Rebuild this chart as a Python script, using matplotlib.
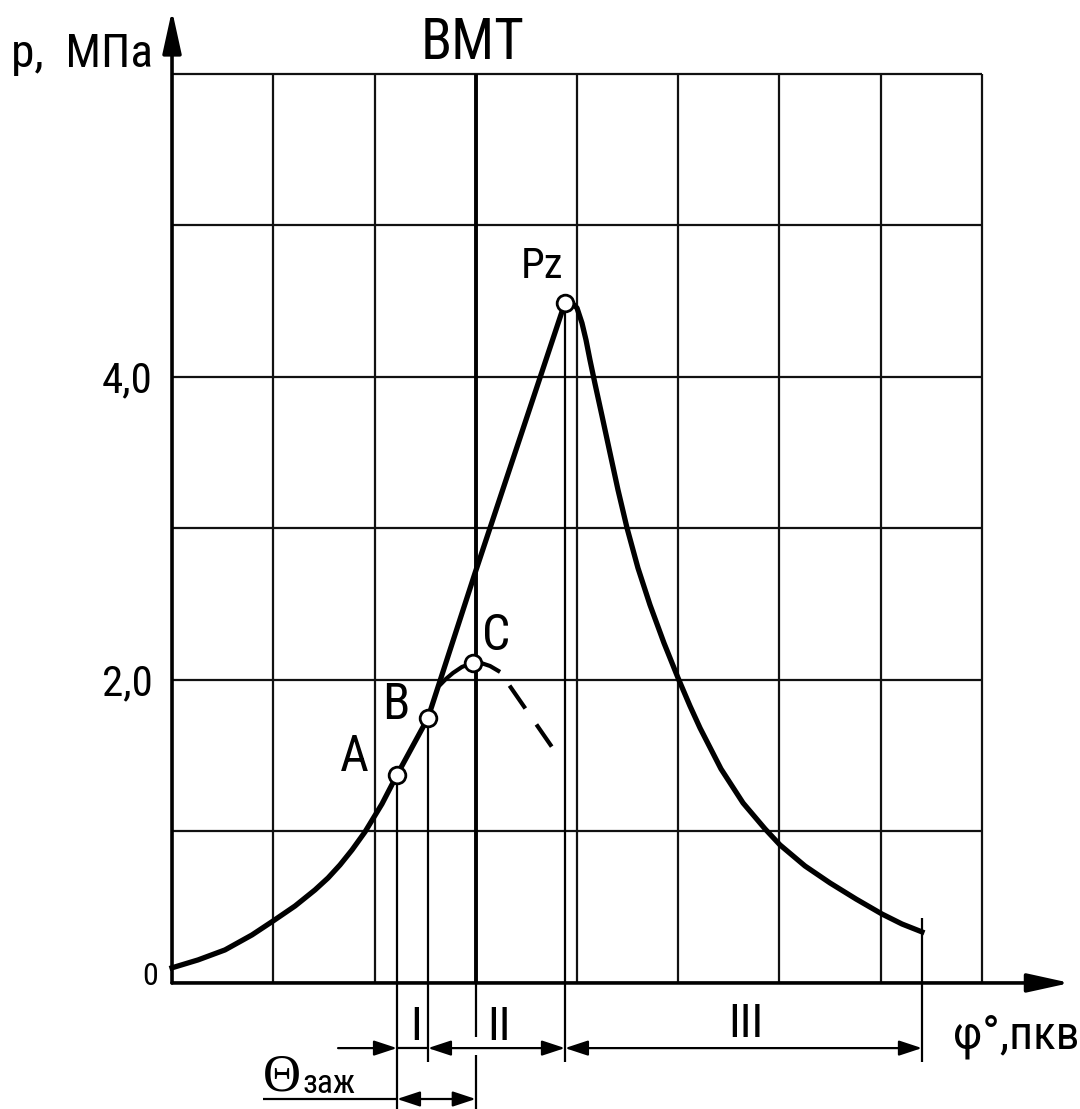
import matplotlib
matplotlib.use('Agg')
import matplotlib.pyplot as plt
from matplotlib.patches import FancyArrowPatch

plt.rcParams['lines.scale_dashes'] = False

NARROW = ['Roboto Condensed', 'PT Sans Narrow', 'DejaVu Sans']
SERIF = ['Liberation Serif', 'DejaVu Serif']

# Grid: x in grid cells (8 cells), y in MPa
grid_x = [1, 2, 3, 4, 5, 6, 7, 8]
grid_y = [1, 2, 3, 4, 5, 6]
bmt_x = 3.0
y_ticks = [4.0, 2.0, 0.0]
y_tick_labels = ['4,0', '2,0', '0']

# Compression + combustion
phi_rise = [0.0, 0.257, 0.523, 0.790, 0.998, 1.215, 1.412, 1.541, 1.659, 1.778,
            1.906, 2.074, 2.222, 2.528, 2.993, 3.881]
p_rise = [0.100, 0.152, 0.218, 0.317, 0.409, 0.508, 0.614, 0.693, 0.779, 0.878,
          0.997, 1.182, 1.373, 1.749, 2.706, 4.490]

# Expansion
phi_fall = [3.881, 3.941, 4.000, 4.049, 4.089, 4.128, 4.178, 4.247, 4.326, 4.405,
            4.494, 4.602, 4.721, 4.859, 4.998, 5.116, 5.215, 5.422, 5.640, 5.857,
            6.005, 6.252, 6.499, 6.756, 7.012, 7.210, 7.407]
p_fall = [4.490, 4.495, 4.455, 4.356, 4.244, 4.112, 3.954, 3.743, 3.498, 3.254,
          3.003, 2.739, 2.495, 2.244, 2.013, 1.828, 1.683, 1.413, 1.188, 1.017,
          0.911, 0.772, 0.660, 0.554, 0.455, 0.389, 0.337]

# Branch through C (solid) and its dashed continuation
phi_c = [2.637, 2.706, 2.775, 2.864, 2.973, 3.052, 3.141, 3.240]
p_c = [1.960, 2.007, 2.046, 2.086, 2.112, 2.112, 2.092, 2.053]
phi_dash = [3.240, 3.750]
p_dash = [2.053, 1.560]

# Marked points
point_names = ['A', 'B', 'C', 'Pz']
point_phi = [2.222, 2.528, 2.973, 3.881]
point_p = [1.373, 1.749, 2.112, 4.490]

phi_end = 7.407
p_end_tick = 0.43

# Extension lines below the axis (A, B, Pz, end of expansion)
ext_phi = [point_phi[0], point_phi[1], point_phi[3], phi_end]
ext_low = [-0.84, -0.52, -0.52, -0.52]
ext_high = [point_p[0], point_p[1], point_p[3], p_end_tick]


def arrow(ax, x1, y1, x2, y2, style, scale=14, lw=1.6):
    ax.add_patch(FancyArrowPatch((x1, y1), (x2, y2), arrowstyle=style,
                                 mutation_scale=scale, shrinkA=0, shrinkB=0,
                                 color='black', lw=lw, zorder=5))


def main():
    fig = plt.figure(figsize=(10.8, 11.09), dpi=100)
    ax = fig.add_axes([0, 0, 1, 1])
    ax.set_xlim(-1.699, 8.968)
    ax.set_ylim(-0.832, 6.488)
    ax.axis('off')

    # Grid
    ax.vlines([g for g in grid_x if g != bmt_x], 0, 6, colors='#111111', lw=1.6, zorder=1)
    ax.hlines(grid_y, 0, 8, colors='#111111', lw=1.6, zorder=1)
    ax.vlines(bmt_x, 0, 6, colors='black', lw=2.8, zorder=1)
    ax.vlines(bmt_x, -0.36, 0, colors='black', lw=1.6, zorder=1)
    ax.vlines(bmt_x, -0.475, -0.84, colors='black', lw=1.6, zorder=1)

    # Axes with arrows
    style = '-|>,head_length=1.0,head_width=0.22'
    arrow(ax, 0, 0, 8.87, 0, style, scale=26, lw=2.6)
    arrow(ax, 0, 0, 0, 6.42, style, scale=26, lw=2.6)

    # Extension lines
    ax.vlines(ext_phi, ext_low, ext_high, colors='black', lw=1.6, zorder=2)

    # Curves
    ax.plot(phi_rise, p_rise, '-', c='black', lw=3.8, zorder=3, solid_joinstyle='round')
    ax.plot(phi_fall, p_fall, '-', c='black', lw=3.8, zorder=3, solid_joinstyle='round')
    ax.plot(phi_c, p_c, '-', c='black', lw=3.0, zorder=3, solid_capstyle='butt')
    ax.plot(phi_dash, p_dash, c='black', lw=3.0, zorder=3,
            linestyle=(22.0, (20.0, 14.0)), dash_capstyle='butt')

    ax.plot(point_phi, point_p, 'o', ms=12, mfc='white', mec='black', mew=2.0, zorder=4)

    # Dimension lines
    dim1 = -0.43
    dim2 = -0.766
    head = ',head_length=1.0,head_width=0.33'
    arrow(ax, 1.64, dim1, point_phi[0], dim1, '-|>' + head)
    ax.hlines(dim1, point_phi[0], point_phi[1], colors='black', lw=1.6, zorder=5)
    arrow(ax, point_phi[1], dim1, point_phi[3], dim1, '<|-|>' + head)
    arrow(ax, point_phi[3], dim1, phi_end, dim1, '<|-|>' + head)
    ax.hlines(dim2, 0.90, point_phi[0], colors='black', lw=1.6, zorder=5)
    arrow(ax, point_phi[0], dim2, bmt_x, dim2, '<|-|>' + head)

    # Tick labels
    for y, label in zip(y_ticks, y_tick_labels):
        if y == 0:
            ax.text(-0.138, -0.013, label, ha='right', va='baseline', fontsize=23, family=NARROW)
        else:
            ax.text(-0.19, y - 0.102, label, ha='right', va='baseline', fontsize=31, family=NARROW)

    ax.text(-1.59, 6.046, 'p,  МПа', ha='left', va='baseline', fontsize=34, family=NARROW)
    ax.text(2.97, 6.20, 'ВМТ', ha='center', va='center', fontsize=41, family=NARROW)

    # Point labels
    ax.text(1.80, 1.49, point_names[0], ha='center', va='center', fontsize=36, family=NARROW)
    ax.text(2.21, 1.835, point_names[1], ha='center', va='center', fontsize=36, family=NARROW)
    ax.text(3.20, 2.29, point_names[2], ha='center', va='center', fontsize=36, family=NARROW)
    ax.text(3.44, 4.65, point_names[3], ha='left', va='baseline', fontsize=31, family=NARROW)

    # Phase labels
    ax.text(2.41, -0.376, 'I', ha='center', va='baseline', fontsize=34, family=NARROW)
    ax.text(3.23, -0.376, 'II', ha='center', va='baseline', fontsize=34, family=NARROW)
    ax.text(5.67, -0.356, 'III', ha='center', va='baseline', fontsize=34, family=NARROW)

    ax.text(7.71, -0.43, 'φ°,пкв', ha='left', va='baseline', fontsize=34, family=NARROW)

    ax.text(0.90, -0.712, 'Θ', ha='left', va='baseline', fontsize=38, family=SERIF)
    ax.text(1.29, -0.726, 'заж', ha='left', va='baseline', fontsize=24, family=NARROW)

    fig.savefig('out.png', dpi=100, facecolor='white')
    plt.close(fig)


if __name__ == '__main__':
    main()
